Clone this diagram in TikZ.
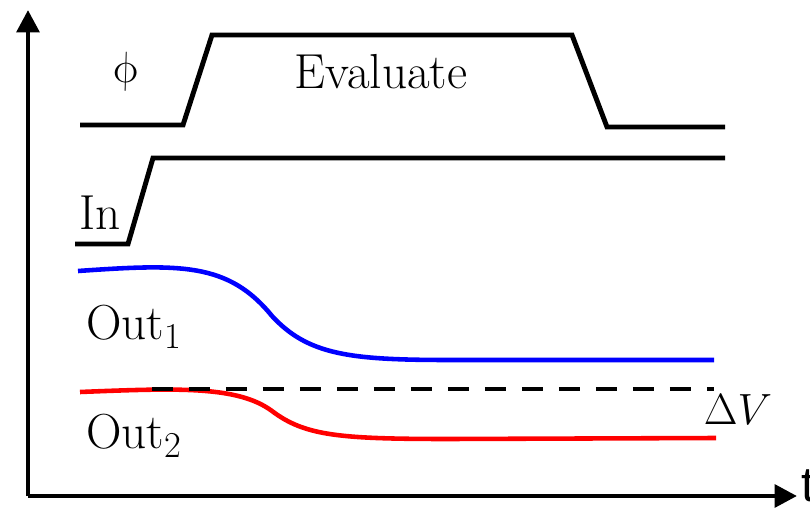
\documentclass[tikz,border=0pt]{standalone}
\usepackage{fontspec}
\newfontfamily\tfont{Liberation Sans}
\usetikzlibrary{arrows.meta}

\begin{document}
\begin{tikzpicture}[
    x=0.02cm, y=-0.02cm,
    % Styles
    wave/.style={line width=2.8pt, line join=miter},
    outcurve/.style={line width=2.6pt},
    axis/.style={line width=2.8pt, -{Triangle[length=0.45cm, width=0.45cm]}},
    lbl/.style={font=\fontsize{28}{32}\selectfont, inner sep=0pt}
]
    \useasboundingbox (0,0) rectangle (810,509);

    % --- AXES ---
    \coordinate (origin) at (28,496);
    \coordinate (ytip) at (28,10);
    \coordinate (xtip) at (797,496);
    \draw [axis] (origin) -- (ytip);
    \draw [axis] (origin) -- (xtip);
    \node [anchor=west, font=\tfont\fontsize{28}{30}\selectfont, inner sep=0pt] (tlabel) at (801,486) {t};

    % --- PHI (CLOCK) ---
    \draw [wave] (80,125) -- (183,125) -- (212,35) -- (572,35) -- (607,127) -- (725,127);
    \node [lbl, xslant=-0.22, transform shape] (phi) at (125,72) {$\phi$};
    \node [lbl] (eval) at (381,72) {Evaluate};

    % --- INPUT ---
    \draw [wave] (75,244) -- (128,244) -- (153,158) -- (725,158);
    \node [lbl] (in) at (100,213) {In};

    % --- OUTPUTS ---
    \draw [outcurve, blue] (78,271) .. controls (180,264) and (228,262) .. (272,316)
        .. controls (308,355) and (350,360) .. (450,360) -- (714,360);
    \node [lbl] (out1) at (134,327) {Out$_1$};

    \draw [outcurve, red] (80,392) .. controls (180,388) and (238,386) .. (272,411)
        .. controls (305,436) and (340,439) .. (450,439) -- (716,438);
    \node [lbl] (out2) at (134,436) {Out$_2$};

    % reference level
    \draw [line width=2.8pt, dash pattern=on 0.42cm off 0.32cm] (152,389) -- (714,389);
    \node [lbl] (dv) at (738,410) {$\Delta V$};

\end{tikzpicture}
\end{document}
